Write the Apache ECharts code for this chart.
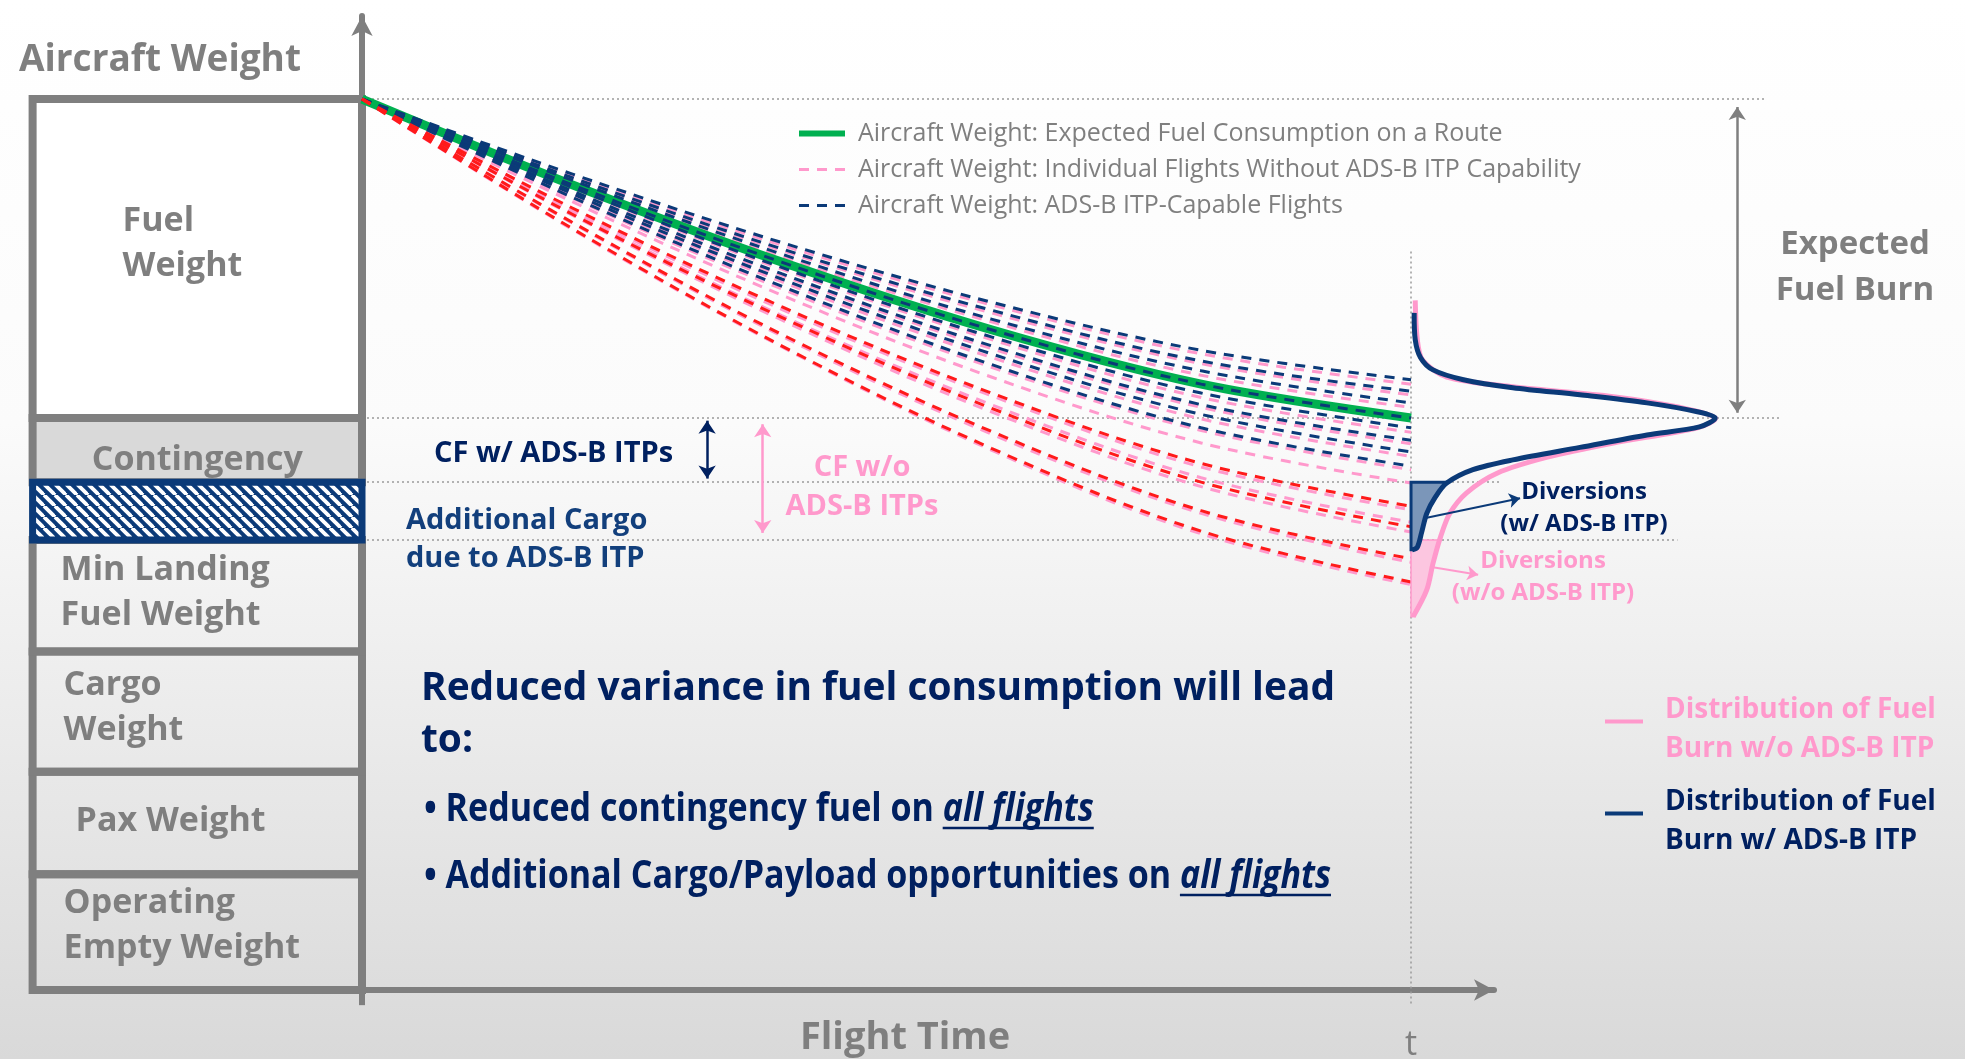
<!DOCTYPE html>
<html>
<head>
<meta charset="utf-8">
<script src="https://cdn.jsdelivr.net/npm/echarts@6/dist/echarts.min.js"></script>
<style>
html,body{margin:0;padding:0;width:1965px;height:1059px;overflow:hidden;}
#c{width:1965px;height:1059px;}
</style>
</head>
<body>
<div id="c"></div>
<script>
// ---------------- DATA ----------------
const flightTime = [0, 20, 40, 60, 80, 100];
const expectedWeight = [100, 90.4, 81.7, 74.1, 68.0, 64.2];
const itpCapableWeights = [
  [100, 91.6, 83.9, 77.2, 71.8, 68.5],
  [100, 91.2, 83.2, 76.3, 70.6, 67.2],
  [100, 90.9, 82.6, 75.3, 69.5, 65.9],
  [100, 90.1, 81.1, 73.3, 67.0, 63.1],
  [100, 89.7, 80.4, 72.3, 65.7, 61.7],
  [100, 89.4, 79.8, 71.4, 64.6, 60.4],
  [100, 89.0, 79.0, 70.2, 63.1, 58.8]
];
const noItpWeights = [
  [100, 91.4, 83.6, 76.9, 71.4, 68.0],
  [100, 91.1, 83.0, 76.0, 70.3, 66.8],
  [100, 90.7, 82.3, 75.0, 69.0, 65.4],
  [100, 90.0, 80.9, 73.0, 66.5, 62.6],
  [100, 89.6, 80.2, 72.0, 65.4, 61.3],
  [100, 89.3, 79.5, 71.0, 64.1, 59.9],
  [100, 88.9, 78.7, 69.9, 62.8, 58.4],
  [100, 88.5, 78.0, 68.8, 61.4, 56.9],
  [100, 87.6, 76.4, 66.7, 58.7, 53.9],
  [100, 87.3, 75.7, 65.7, 57.5, 52.5],
  [100, 87.0, 75.2, 64.9, 56.5, 51.4],
  [100, 86.1, 73.4, 62.4, 53.5, 48.0],
  [100, 85.4, 72.2, 60.6, 51.2, 45.5]
];
const divertingWeights = [
  [100, 87.8, 76.7, 67.0, 59.1, 54.3],
  [100, 87.1, 75.5, 65.3, 57.0, 52.0],
  [100, 86.2, 73.6, 62.7, 53.8, 48.4],
  [100, 85.5, 72.3, 60.8, 51.5, 45.8]
];
// fuel-burn distributions at time t: [t + density, weight]
const distNoItp = [[100.4,77.4],[100.6,73.0],[101.1,70.7],[103.4,68.8],[109.7,67.7],[119.3,66.6],[125.6,65.4],[129.0,64.2],[127.3,63.1],[119.3,61.4],[113.0,59.8],[108.2,58.0],[105.3,55.8],[103.7,53.5],[102.8,50.8],[102.1,47.9],[101.5,44.9],[100.2,41.9]];
const distItp = [[100.3,76.0],[100.4,73.0],[100.9,71.0],[102.1,69.6],[105.0,68.5],[109.7,67.6],[116.1,66.8],[122.5,65.9],[127.3,64.9],[129.0,64.2],[127.5,63.2],[122.5,62.3],[116.1,60.9],[109.7,59.5],[105.9,58.4],[103.4,56.9],[102.3,55.3],[101.5,53.5],[101.0,51.3],[100.6,49.7],[100.1,49.4]];
const divertItpArea = [[100,57.0],[103.3,57.0],[102.3,55.3],[101.5,53.5],[101.0,51.3],[100.6,49.7],[100.1,49.4],[100,49.4]];
const divertNoItpArea = [[100,50.5],[102.75,50.5],[102.1,47.9],[101.5,44.9],[100.2,41.9],[100,41.9]];
// weight levels
const startWeight = 100;
const expectedLanding = 64.2;
const cfWithItpFloor = 57.0;
const cfWithoutItpFloor = 50.5;
const flightEnd = 100;
// aircraft weight build-up (bottom to top)
const componentNames = ['Operating\nEmpty Weight', 'Pax Weight', 'Cargo\nWeight', 'Min Landing\nFuel Weight', '', 'Contingency', 'Fuel\nWeight'];
const componentWeights = [13, 11.5, 13.5, 12.5, 6.5, 7.2, 35.8];

// ---------------- NAMES / STYLES ----------------
const nameExpected = 'Aircraft Weight: Expected Fuel Consumption on a Route';
const nameNoItp = 'Aircraft Weight: Individual Flights Without ADS-B ITP Capability';
const nameItp = 'Aircraft Weight: ADS-B ITP-Capable Flights';
const nameDistNo = 'Distribution of Fuel\nBurn w/o ADS-B ITP';
const nameDistItp = 'Distribution of Fuel\nBurn w/ ADS-B ITP';
const GRAY = '#7f7f7f', NAVY = '#0b3a78', DARK = '#002060', PINK = '#ff99cc', RED = '#ff1a1a', GREEN = '#00b050';
const FONT = 'Open Sans';
const boxLeft = -31.4;
const guideEnds = [133.9, 135.2, 108.5, 125.4];
const legendBarIcon = 'path://M0,0h38v4h-38z M0,21h0.01';

const hatch = document.createElement('canvas');
hatch.width = 11; hatch.height = 11;
(function(){
  const g = hatch.getContext('2d');
  g.fillStyle = NAVY; g.fillRect(0, 0, 11, 11);
  g.strokeStyle = '#ffffff'; g.lineWidth = 3.8;
  for (const o of [-11, 0, 11]) { g.beginPath(); g.moveTo(o, 0); g.lineTo(o + 11, 11); g.stroke(); }
})();

const boxStyle = [
  {fill: 'rgba(0,0,0,0)', stroke: GRAY, lw: 8, dx: 31, dy: -6, align: 'left'},
  {fill: 'rgba(0,0,0,0)', stroke: GRAY, lw: 8, dx: 43, dy: -2, align: 'left'},
  {fill: 'rgba(0,0,0,0)', stroke: GRAY, lw: 8, dx: 31, dy: -4, align: 'left'},
  {fill: 'rgba(0,0,0,0)', stroke: GRAY, lw: 8, dx: 28, dy: -3, align: 'left'},
  {fill: {image: hatch, repeat: 'repeat'}, stroke: NAVY, lw: 7, z2: 20},
  {fill: '#d9d9d9', stroke: GRAY, lw: 8, center: true, dy: 10, align: 'center'},
  {fill: '#ffffff', stroke: GRAY, lw: 8, dx: 90, dy: -15, align: 'left'}
];

let cum = 0;
const boxData = componentWeights.map((h, i) => { const b = cum; cum += h; return [b, cum, i]; });

function lineSeries(name, values, color, width, dash, z) {
  return {
    type: 'line', name: name, z: z, silent: true, clip: false, symbol: 'none', smooth: 0.35,
    data: flightTime.map((t, i) => [t, values[i]]),
    lineStyle: {color: color, width: width, type: dash},
    itemStyle: {color: color},
    emphasis: {disabled: true}
  };
}
function curveSeries(name, pts, color, z) {
  return {
    type: 'custom', name: name, z: z, silent: true, clip: false, data: [0],
    itemStyle: {color: color},
    renderItem: function (params, api) {
      return {type: 'polyline', shape: {points: pts.map(p => api.coord(p)), smooth: 0.3},
        style: {stroke: color, lineWidth: 5, fill: null, lineJoin: 'round'}};
    }
  };
}

const series = [];
// weight build-up boxes
series.push({
  type: 'custom', silent: true, clip: false, z: 3, data: boxData,
  renderItem: function (params, api) {
    const i = api.value(2);
    const st = boxStyle[i];
    const pTop = api.coord([boxLeft, api.value(1)]);
    const pBot = api.coord([0, api.value(0)]);
    const children = [{
      type: 'rect', z2: st.z2 || 1,
      shape: {x: pTop[0], y: pTop[1], width: pBot[0] - pTop[0], height: pBot[1] - pTop[1]},
      style: {fill: st.fill, stroke: st.stroke, lineWidth: st.lw}
    }];
    if (componentNames[i]) {
      children.push({
        type: 'text', z2: 30,
        x: st.center ? (pTop[0] + pBot[0]) / 2 : pTop[0] + st.dx,
        y: (pTop[1] + pBot[1]) / 2 + st.dy,
        style: {text: componentNames[i], fill: GRAY, fontFamily: FONT, fontWeight: 'bold', fontSize: 34, lineHeight: 45, align: st.align, verticalAlign: 'middle'}
      });
    }
    return {type: 'group', children: children};
  }
});
// dotted guide lines
series.push({
  type: 'lines', coordinateSystem: 'cartesian2d', silent: true, clip: false, z: 1, symbol: 'none',
  lineStyle: {color: '#9a9a9a', width: 1.5, type: [2, 3], opacity: 1},
  data: [
    {coords: [[0, startWeight], [guideEnds[0], startWeight]]},
    {coords: [[0, expectedLanding], [guideEnds[1], expectedLanding]]},
    {coords: [[0, cfWithItpFloor], [guideEnds[2], cfWithItpFloor]]},
    {coords: [[0, cfWithoutItpFloor], [guideEnds[3], cfWithoutItpFloor]]},
    {coords: [[flightEnd, 82.9], [flightEnd, -1.7]]}
  ]
});
// y axis extension below origin
series.push({
  type: 'lines', coordinateSystem: 'cartesian2d', silent: true, clip: false, z: 3, symbol: 'none',
  lineStyle: {color: GRAY, width: 6, opacity: 1},
  data: [{coords: [[0, 0], [0, -1.7]]}]
});
// pink lines
noItpWeights.forEach(v => series.push(lineSeries(nameNoItp, v, PINK, 3, [10, 8], 4)));
// navy lines
itpCapableWeights.forEach(v => series.push(lineSeries(nameItp, v, NAVY, 3, [10, 8], 6)));
// expected line
series.push(lineSeries(nameExpected, expectedWeight, GREEN, 9, 'solid', 5));
series.push(lineSeries('Expected (ITP overlay)', expectedWeight, NAVY, 3, [10, 8], 6));
// diverting red lines
divertingWeights.forEach(v => series.push(lineSeries('Diverting flights', v, RED, 3, [10, 8], 6)));
// diversion areas
series.push({
  type: 'custom', silent: true, clip: false, z: 7, data: [0],
  renderItem: function (params, api) {
    return {type: 'polygon', shape: {points: divertNoItpArea.map(p => api.coord(p))}, style: {fill: '#fcc6e0', stroke: PINK, lineWidth: 1.5}};
  }
});
series.push({
  type: 'custom', silent: true, clip: false, z: 8, data: [0],
  renderItem: function (params, api) {
    return {type: 'polygon', shape: {points: divertItpArea.map(p => api.coord(p))}, style: {fill: '#7b96b9', stroke: NAVY, lineWidth: 3}};
  }
});
// distributions
series.push(curveSeries(nameDistNo, distNoItp, PINK, 8));
series.push(curveSeries(nameDistItp, distItp, NAVY, 9));
// measurement arrows
series.push({
  type: 'lines', coordinateSystem: 'cartesian2d', silent: true, clip: false, z: 9,
  symbol: ['arrow', 'arrow'], symbolSize: 13,
  data: [
    {coords: [[32.9, 63.9], [32.9, 57.4]], lineStyle: {color: DARK, width: 2.5, opacity: 1}},
    {coords: [[38.2, 63.5], [38.2, 51.3]], lineStyle: {color: PINK, width: 2.5, opacity: 1}},
    {coords: [[131.1, 99.1], [131.1, 64.8]], lineStyle: {color: GRAY, width: 2.5, opacity: 1}}
  ]
});
series.push({
  type: 'lines', coordinateSystem: 'cartesian2d', silent: true, clip: false, z: 10,
  symbol: ['none', 'arrow'], symbolSize: 11,
  data: [
    {coords: [[101.5, 53.0], [110.4, 55.2]], lineStyle: {color: NAVY, width: 2, opacity: 1}},
    {coords: [[101.8, 47.5], [106.4, 46.6]], lineStyle: {color: PINK, width: 2, opacity: 1}}
  ]
});

// ---------------- TEXT LAYOUT (bottom statement) ----------------
const mctx = document.createElement('canvas').getContext('2d');
function tw(str, font) { mctx.font = font; return mctx.measureText(str).width; }
const BFS = 40;
const bFont = 'bold ' + BFS + 'px "' + FONT + '"';
const biFont = 'italic bold ' + BFS + 'px "' + FONT + '"';
const headLine1 = 'Reduced variance in fuel consumption will lead';
const sc = Math.min(1, 914 / tw(headLine1, bFont));
const bullet1 = '\u2022 Reduced contingency fuel on ';
const bullet2 = '\u2022 Additional Cargo/Payload opportunities on ';
const emph = 'all flights';
const sb = Math.min(1, 907 / (tw(bullet2, bFont) + tw(emph, biFont)));
const w1 = tw(bullet1, bFont) * sb, w2 = tw(bullet2, bFont) * sb, we = tw(emph, biFont) * sb;

function txt(x, y, text, opt) {
  return Object.assign({type: 'text', x: x, y: y, silent: true, z: 20,
    style: Object.assign({text: text, fontFamily: FONT, fontWeight: 'bold', verticalAlign: 'middle', align: 'left'}, opt.style)}, opt.el || {});
}
const graphics = [
  txt(1855, 268, 'Expected\nFuel Burn', {style: {fill: GRAY, fontSize: 33, lineHeight: 46, align: 'center'}}),
  txt(434, 454, 'CF w/ ADS-B ITPs', {style: {fill: DARK, fontSize: 29}}),
  txt(862, 487, 'CF w/o\nADS-B ITPs', {style: {fill: PINK, fontSize: 29, lineHeight: 39, align: 'center'}}),
  txt(406, 540, 'Additional Cargo\ndue to ADS-B ITP', {style: {fill: '#123f7c', fontSize: 29, lineHeight: 38}}),
  txt(1584, 508, 'Diversions\n(w/ ADS-B ITP)', {style: {fill: DARK, fontSize: 24, lineHeight: 32, align: 'center'}}),
  txt(1543, 577, 'Diversions\n(w/o ADS-B ITP)', {style: {fill: PINK, fontSize: 24, lineHeight: 32, align: 'center'}}),
  txt(421, 715, headLine1 + '\nto:', {style: {fill: DARK, fontSize: BFS, lineHeight: 52}, el: {scaleX: sc}}),
  txt(424, 810, bullet1, {style: {fill: DARK, fontSize: BFS}, el: {scaleX: sb}}),
  txt(424 + w1, 810, emph, {style: {fill: DARK, fontSize: BFS, fontStyle: 'italic'}, el: {scaleX: sb}}),
  {type: 'line', silent: true, z: 20, shape: {x1: 424 + w1, y1: 828, x2: 424 + w1 + we, y2: 828}, style: {stroke: DARK, lineWidth: 2.5}},
  txt(424, 877, bullet2, {style: {fill: DARK, fontSize: BFS}, el: {scaleX: sb}}),
  txt(424 + w2, 877, emph, {style: {fill: DARK, fontSize: BFS, fontStyle: 'italic'}, el: {scaleX: sb}}),
  {type: 'line', silent: true, z: 20, shape: {x1: 424 + w2, y1: 895, x2: 424 + w2 + we, y2: 895}, style: {stroke: DARK, lineWidth: 2.5}}
];

const chart = echarts.init(document.getElementById('c'), null, {renderer: 'canvas'});
chart.setOption({
  animation: false,
  backgroundColor: {type: 'linear', x: 0, y: 0, x2: 0, y2: 1, colorStops: [
    {offset: 0, color: '#ffffff'}, {offset: 0.4, color: '#fbfbfb'}, {offset: 1, color: '#d9d9d9'}]},
  textStyle: {fontFamily: FONT},
  grid: {left: 362, right: 471, top: 16, bottom: 69, containLabel: false, outerBoundsMode: 'none'},
  xAxis: {
    type: 'value', min: 0, max: 107.91, interval: 100,
    axisLine: {show: true, onZero: false, symbol: ['none', 'arrow'], symbolSize: [16, 20], lineStyle: {color: GRAY, width: 6}},
    axisTick: {show: false}, splitLine: {show: false},
    axisLabel: {show: true, margin: 38, color: GRAY, fontSize: 34, fontFamily: FONT, formatter: v => (v === flightEnd ? 't' : '')},
    name: 'Flight Time', nameLocation: 'middle', nameGap: 48, nameMoveOverlap: false,
    nameTextStyle: {color: GRAY, fontSize: 38, fontWeight: 'bold', fontFamily: FONT, verticalAlign: 'middle', padding: [0, 46, 0, 0]}
  },
  yAxis: {
    type: 'value', min: 0, max: 109.32,
    axisLine: {show: true, onZero: false, symbol: ['none', 'arrow'], symbolSize: [16, 20], lineStyle: {color: GRAY, width: 6}},
    axisTick: {show: false}, splitLine: {show: false}, axisLabel: {show: false},
    name: 'Aircraft Weight', nameLocation: 'end', nameGap: -44, nameMoveOverlap: false,
    nameTextStyle: {color: GRAY, fontSize: 37, fontWeight: 'bold', fontFamily: FONT, align: 'right', verticalAlign: 'middle', padding: [0, 61, 0, 0]}
  },
  legend: [
    {
      orient: 'vertical', left: 791, top: 116, itemWidth: 46, itemHeight: 2, itemGap: 11, selectedMode: false,
      itemStyle: {opacity: 0},
      data: [
        {name: nameExpected, lineStyle: {width: 6}},
        {name: nameNoItp, lineStyle: {width: 3}},
        {name: nameItp, lineStyle: {width: 3}}
      ],
      textStyle: {fontFamily: FONT, fontSize: 25, color: GRAY, padding: [0, 0, 0, 8]}
    },
    {
      orient: 'vertical', left: 1600, top: 686, itemWidth: 38, itemHeight: 21, itemGap: 14, selectedMode: false,
      data: [{name: nameDistNo, icon: legendBarIcon, textStyle: {color: PINK}}, {name: nameDistItp, icon: legendBarIcon, textStyle: {color: DARK}}],
      textStyle: {fontFamily: FONT, fontSize: 28, fontWeight: 'bold', lineHeight: 39, padding: [0, 0, 0, 17]}
    }
  ],
  graphic: graphics,
  series: series
});
</script>
</body>
</html>
